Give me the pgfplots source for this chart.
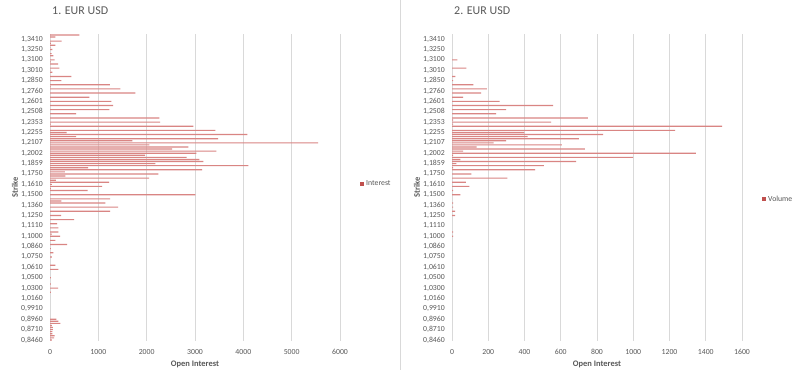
\documentclass[border=0pt]{standalone}
\usepackage{pgfplots}
\pgfplotsset{compat=1.18}
\usepackage{fontspec}
\setmainfont{Carlito}
\definecolor{barred}{HTML}{C0504D}
\definecolor{barfill}{HTML}{D98583}
\definecolor{gridgray}{HTML}{D9D9D9}
\definecolor{txtgray}{HTML}{595959}

\pgfplotsset{panel/.style={
  scale only axis, width=290bp, height=307.1bp, anchor=south west,
  xbar, bar width=1.15bp, bar shift=0pt,
  ymin=-0.5, ymax=147.5, xmin=0,
  enlargelimits=false,
  axis line style={draw=none},
  major tick length=0pt, tick style={draw=none},
  xmajorgrids, grid style={gridgray, line width=0.9bp},
  ytick={0,5,...,145},
  yticklabels={{0,8460},{0,8710},{0,8960},{0,9910},{1,0160},{1,0300},{1,0500},{1,0610},{1,0750},{1,0860},{1,1000},{1,1110},{1,1250},{1,1360},{1,1500},{1,1610},{1,1750},{1,1859},{1,2002},{1,2107},{1,2255},{1,2353},{1,2508},{1,2601},{1,2760},{1,2850},{1,3010},{1,3100},{1,3250},{1,3410}},
  y tick label style={font=\fontsize{7.8}{8}\selectfont, text=txtgray, inner sep=0pt, anchor=east, xshift=-7bp},
  x tick label style={font=\fontsize{7.8}{8}\selectfont, text=txtgray, inner sep=0pt, anchor=north, yshift=-8bp,
     /pgf/number format/assume math mode=true, /pgf/number format/1000 sep={}},
  xlabel={Open Interest},
  xlabel style={at={(axis description cs:0.5,-0.075)}, anchor=center, font=\fontsize{8.5}{9}\bfseries, text=txtgray},
  ylabel={Strike},
  ylabel style={at={(axis description cs:-0.121,0.5)}, anchor=center, font=\fontsize{8.5}{9}\bfseries, text=txtgray},
  title style={at={(axis description cs:0.007,1.057)}, anchor=west, font=\fontsize{12}{14}\selectfont, text=txtgray, inner sep=0pt},
  legend style={draw=none, fill=none, anchor=west, font=\fontsize{7.8}{8}\selectfont, text=txtgray, inner sep=0pt,
     legend cell align=left},
  legend image code/.code={\fill[barred] (0bp,-2bp) rectangle (4bp,2bp);},
}}

\begin{document}
\begin{tikzpicture}
\path[use as bounding box, fill=white] (0,0) rectangle (800bp,370bp);
\draw[gridgray, line width=0.8bp] (400bp,0) -- (400bp,370bp);

\begin{axis}[panel, at={(50bp,29bp)}, xmax=6000, xtick={0,1000,...,6000},
  title={1. EUR USD}, legend style={at={(axis description cs:1.069,0.511)}}]
\addplot[fill=barfill, draw=none] coordinates {
(41,0) (83,1) (97,2) (48,3) (48,4) (62,5) (62,6) (41,7) (214,8) (172,9) (131,10)
(20,23) (166,25) (20,27) (20,30) (172,34) (110,36) (41,40) (69,42) (20,44) (352,46)
(110,48) (207,50) (41,51) (172,52) (172,54) (145,56) (497,58) (228,60) (1242,62)
(1408,64) (1145,66) (234,67) (1242,68) (3008,70) (780,72) (20,73) (1076,74) (41,75)
(1221,76) (124,77) (2049,78) (317,79) (2242,80) (310,81) (3146,82) (787,83) (4105,84)
(2180,85) (3174,86) (3091,87) (2829,88) (1966,89) (3029,90) (3443,91) (2525,92)
(2863,93) (2056,94) (5548,95) (1704,96) (3478,97) (538,98) (4085,99) (345,100)
(3422,101) (2967,103) (20,104) (2277,105) (2263,107) (538,109) (1228,111) (1304,113)
(1270,115) (814,117) (1766,119) (1455,121) (15,122) (1241,123) (234,125) (441,127)
(48,129) (10,130) (193,131) (166,133) (20,134) (97,135) (69,137) (35,138) (48,140)
(10,141) (110,142) (20,143) (241,144) (110,146) (607,147)
};
\addlegendentry{Interest}
\end{axis}

\begin{axis}[panel, at={(452bp,29bp)}, xmax=1600, xtick={0,200,...,1600},
  title={2. EUR USD}, legend style={at={(axis description cs:1.069,0.462)}}]
\addplot[fill=barfill, draw=none] coordinates {
(6,50) (6,52) (17,60) (17,62) (6,64) (6,66) (46,70) (6,72) (96,74) (77,76) (305,78)
(107,80) (459,82) (6,83) (507,84) (24,85) (685,86) (46,87) (999,88) (6,89) (1345,90)
(62,91) (733,92) (136,93) (606,94) (230,95) (298,96) (700,97) (417,98) (834,99)
(399,100) (1231,101) (1490,103) (6,104) (547,105) (6,106) (750,107) (244,109)
(298,111) (558,113) (263,115) (62,117) (160,119) (193,121) (118,123) (6,125) (18,127)
(79,131) (29,135)
};
\addlegendentry{Volume}
\end{axis}
\end{tikzpicture}
\end{document}
